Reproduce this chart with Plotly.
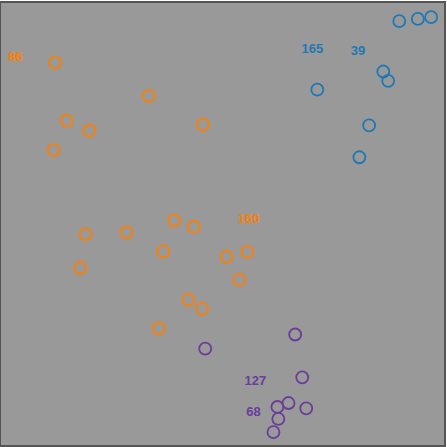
import plotly.graph_objects as go

# Data (x, y on 0-100 scale)
orange_x = [12.2, 33.4, 14.8, 19.9, 45.6, 11.9, 39.1, 43.5, 19.1, 28.3, 36.6, 50.9, 55.6, 17.9, 53.8, 42.3, 45.4, 35.6]
orange_y = [86.5, 79.0, 73.4, 71.1, 72.5, 66.7, 50.8, 49.4, 47.7, 48.1, 43.8, 42.6, 43.7, 40.1, 37.4, 32.9, 30.8, 26.4]

blue_x = [89.9, 94.1, 97.1, 86.3, 87.4, 71.4, 83.1, 80.9]
blue_y = [95.9, 96.4, 96.8, 84.5, 82.4, 80.4, 72.3, 65.1]

purple_x = [66.4, 46.1, 68.0, 64.9, 62.4, 68.9, 62.6, 61.5]
purple_y = [25.0, 21.8, 15.3, 9.5, 8.6, 8.3, 5.9, 2.9]

orange_labels = ["86", "160"]
orange_label_x = [3.2, 55.9]
orange_label_y = [87.6, 50.9]

blue_labels = ["165", "39"]
blue_label_x = [70.3, 80.6]
blue_label_y = [89.4, 89.0]

purple_labels = ["127", "68"]
purple_label_x = [57.4, 57.0]
purple_label_y = [14.2, 7.4]

colors = {"orange": "#ff7f00", "blue": "#1f78b4", "purple": "#6a3d9a"}

fig = go.Figure()

def add_points(xs, ys, color):
    fig.add_trace(go.Scatter(
        x=xs, y=ys, mode="markers",
        marker=dict(symbol="circle-open", size=12, color=color, line=dict(width=1.8, color=color)),
        hoverinfo="skip", showlegend=False))

def add_labels(xs, ys, texts, color):
    fig.add_trace(go.Scatter(
        x=xs, y=ys, mode="text", text=texts,
        textfont=dict(family="Liberation Sans, Arial, sans-serif", size=13, color=color, weight="bold"),
        textposition="middle center", hoverinfo="skip", showlegend=False))

add_points(orange_x, orange_y, colors["orange"])
add_points(blue_x, blue_y, colors["blue"])
add_points(purple_x, purple_y, colors["purple"])
add_labels(orange_label_x, orange_label_y, orange_labels, colors["orange"])
add_labels(blue_label_x, blue_label_y, blue_labels, colors["blue"])
add_labels(purple_label_x, purple_label_y, purple_labels, colors["purple"])

axis_common = dict(range=[0, 100], showgrid=False, zeroline=False, showticklabels=False,
                   ticks="", showline=True, mirror=True, linecolor="#555555", linewidth=1.5,
                   fixedrange=True)

fig.update_layout(
    width=447, height=447,
    margin=dict(l=1, r=2, t=1, b=2),
    paper_bgcolor="white",
    plot_bgcolor="#999999",
    xaxis=axis_common,
    yaxis=axis_common,
)

fig.write_html("out.html", config={"displayModeBar": False},
               post_script="document.body.style.margin='0';document.body.style.overflow='hidden';")
